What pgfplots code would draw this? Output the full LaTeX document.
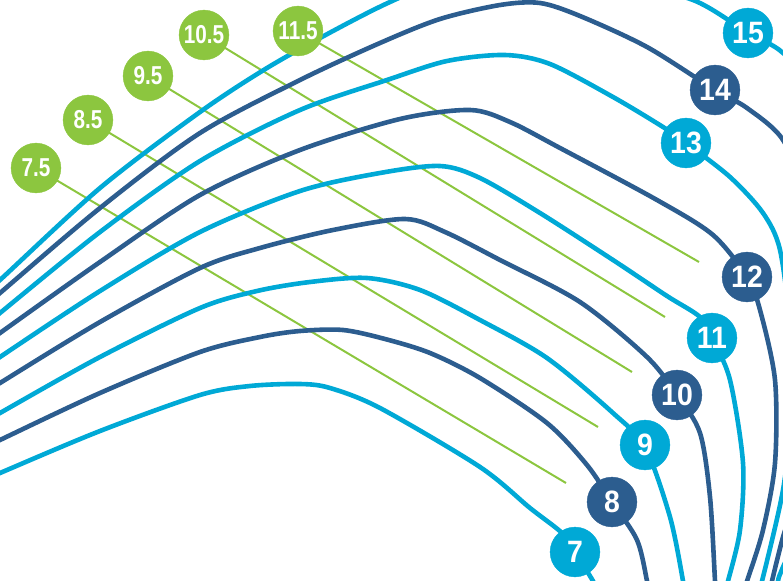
\documentclass[border=0pt]{standalone}
\usepackage{fontspec}
\setmainfont{Liberation Sans}
\newfontfamily\numfont[FakeStretch=0.92]{Liberation Sans}
\newfontfamily\grfont[FakeStretch=0.8]{Liberation Sans}
\usepackage{pgfplots}
\pgfplotsset{compat=1.18}
\definecolor{lb}{HTML}{00A9D6}
\definecolor{db}{HTML}{2C5D8F}
\definecolor{gr}{HTML}{8CC63F}
\begin{document}
\begin{tikzpicture}
\begin{axis}[scale only axis, width=783bp, height=581bp,
  xmin=0, xmax=783, ymin=0, ymax=581, y dir=reverse, hide axis, clip=true]
% green size lines
\addplot[gr, line width=2bp] coordinates {(36,168) (566,483)};
\addplot[gr, line width=2bp] coordinates {(88,120) (598,427)};
\addplot[gr, line width=2bp] coordinates {(148,76) (632,372)};
\addplot[gr, line width=2bp] coordinates {(204,35) (665,317)};
\addplot[gr, line width=2bp] coordinates {(298,31) (699,262)};
% size curves
\addplot[lb, line width=4.6bp, smooth] coordinates {(-20,482) (0,473) (100,431) (200,395) (250,386) (300,384) (330,388) (380,408) (480,467) (530,508) (562,533) (575,552) (593,581) (600,595)};
\addplot[db, line width=4.6bp, smooth] coordinates {(-20,450) (0,440) (100,393) (200,352) (260,337) (300,331) (343,330) (385,339) (430,353) (480,378) (547,423) (587,465) (612,502) (637,540) (647,581) (650,600)};
\addplot[lb, line width=4.6bp, smooth] coordinates {(-20,425) (0,413) (100,357) (200,308) (257,291) (310,282) (367,278) (420,290) (480,320) (547,358) (613,413) (645,447) (670,517) (683,581) (685,600)};
\addplot[db, line width=4.6bp, smooth] coordinates {(-20,396) (0,383) (100,322) (200,268) (260,248) (333,230) (405,219) (445,232) (500,260) (580,302) (647,357) (677,395) (700,433) (710,497) (715,581) (716,600)};
\addplot[lb, line width=4.6bp, smooth] coordinates {(-20,371) (0,357) (100,291) (200,232) (300,191) (380,173) (440,166) (480,178) (540,213) (613,260) (667,296) (700,317) (712,338) (730,380) (743,463) (740,530) (728,581) (722,600)};
\addplot[db, line width=4.6bp, smooth] coordinates {(-20,348) (0,333) (100,262) (200,195) (300,150) (400,119) (470,110) (510,122) (560,148) (657,200) (713,235) (747,277) (760,310) (775,380) (775,463) (763,530) (747,581) (740,600)};
\addplot[lb, line width=4.6bp, smooth] coordinates {(-20,330) (0,313) (100,232) (200,161) (300,110) (387,80) (447,61) (505,55) (550,64) (613,97) (663,127) (686,143) (730,177) (763,213) (780,250) (790,330) (790,420) (783,490) (762,581) (755,600)};
\addplot[db, line width=4.6bp, smooth] coordinates {(-20,310) (0,293) (100,208) (200,133) (300,80) (380,43) (440,19) (500,5) (540,3) (580,16) (647,47) (715,90) (747,108) (783,140) (805,200) (812,350) (800,480) (783,537) (772,581) (768,600)};
\addplot[lb, line width=4.6bp, smooth] coordinates {(-20,297) (0,280) (100,188) (200,112) (267,68) (333,31) (390,2) (450,-22) (530,-32) (610,-20) (693,0) (748,33) (783,53) (820,100) (835,300) (820,480) (783,567) (778,581) (775,600)};
% labels
\addplot[only marks, mark=*, mark size=25pt, mark options={draw=gr, fill=gr},
  nodes near coords, point meta=explicit symbolic,
  nodes near coords style={anchor=center, text=white, font=\grfont\bfseries\fontsize{26}{26}\selectfont}]
  coordinates {(36,168)[7.5] (88,120)[8.5] (148,76)[9.5] (204,35)[10.5] (298,31)[11.5]};
\addplot[only marks, mark=*, mark size=25pt, mark options={draw=lb, fill=lb},
  nodes near coords, point meta=explicit symbolic,
  nodes near coords style={anchor=center, text=white, font=\numfont\bfseries\fontsize{31}{31}\selectfont}]
  coordinates {(575,552)[7] (645,445)[9] (712,338)[11] (686,143)[13] (748,33)[15]};
\addplot[only marks, mark=*, mark size=25pt, mark options={draw=db, fill=db},
  nodes near coords, point meta=explicit symbolic,
  nodes near coords style={anchor=center, text=white, font=\numfont\bfseries\fontsize{31}{31}\selectfont}]
  coordinates {(612,502)[8] (677,395)[10] (747,277)[12] (715,90)[14]};
\end{axis}
\end{tikzpicture}
\end{document}
